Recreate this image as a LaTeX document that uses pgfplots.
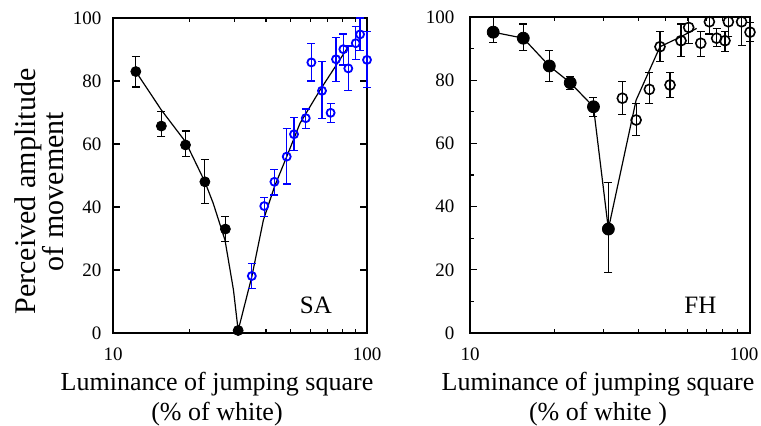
\documentclass[border=0pt]{standalone}
\usepackage{fontspec}
\setmainfont{Liberation Serif}
\usepackage{pgfplots}
\pgfplotsset{compat=1.18}

\begin{document}
\begin{tikzpicture}
\useasboundingbox (0,0) rectangle (380.5pt,212.5pt);

% ---- SA ----
\begin{axis}[at={(56.5pt,46pt)}, anchor=south west,
    width=127pt, height=157.5pt, scale only axis, clip=false,
    xmode=log, xmin=10, xmax=100, ymin=0, ymax=100,
    xtick={10,100}, xticklabels={10,100},
    minor xtick={20,30,40,50,60,70,80,90},
    ytick={0,20,40,60,80,100}, yticklabels={0,20,40,60,80,100},
    axis line style={line width=1pt},
    tick style={line width=0.6pt, black},
    major tick length=3.5pt, minor tick length=2pt,
    tick label style={font=\fontsize{9.5}{11}\selectfont},
    xticklabel style={yshift=-4pt},
    yticklabel style={xshift=-2.3pt},
    xlabel={Luminance of jumping square\\(\% of white)},
    xlabel style={font=\fontsize{13}{15}\selectfont, align=center,
      at={(axis description cs:0.5,0)}, anchor=north, yshift=-16pt, xshift=-11.5pt},
    ylabel={Perceived amplitude\\of movement},
    ylabel style={font=\fontsize{15}{14}\selectfont, align=center,
      at={(axis description cs:0,0.5)}, anchor=south, yshift=21pt, xshift=-8pt}]

  \addplot[black, line width=0.6pt] coordinates {
    (12.3,83.0) (15.5,70.8) (19.3,60.7) (23.0,48.0) (24.8,41.2)
    (27.6,29.5) (29.8,13.7) (31.1,0.8)
    (35.2,17.9) (39.1,35.9) (43.2,46.4) (48.3,56.0) (54.5,66.6)
    (65.3,77.1) (84.4,90.9)};

  \addplot[black, only marks, mark=*, mark size=2.5pt,
    error bars/.cd, y dir=both, y explicit,
    error bar style={line width=0.6pt},
    error mark options={rotate=90, mark size=2pt, line width=0.6pt}] coordinates {
    (12.3,83.0) += (0,4.8) -= (0,4.9)
    (15.5,65.7) += (0,4.6) -= (0,3.4)
    (19.3,59.7) += (0,4.4) -= (0,3.7)
    (23.0,48.0) += (0,7.1) -= (0,6.8)
    (27.7,33.0) += (0,3.9) -= (0,4.0)
    (31.1,0.8)  += (0,0)   -= (0,0)};

  \addplot[blue, only marks, mark=o, mark size=2pt, line width=0.9pt,
    error bars/.cd, y dir=both, y explicit,
    error bar style={line width=0.6pt},
    error mark options={rotate=90, mark size=2pt, line width=0.6pt}] coordinates {
    (35.2,18.1) += (0,4.0) -= (0,3.9)
    (39.4,40.3) += (0,2.8) -= (0,3.4)
    (43.2,48.0) += (0,4.0) -= (0,4.2)
    (48.3,56.0) += (0,9.0) -= (0,8.7)
    (51.6,63.1) += (0,5.2) -= (0,5.2)
    (57.4,68.2) += (0,2.9) -= (0,3.2)
    (60.4,85.9) += (0,6.1) -= (0,5.9)
    (66.5,76.9) += (0,9.2) -= (0,8.7)
    (71.9,69.9) += (0,3.0) -= (0,3.1)
    (75.5,86.9) += (0,7.0) -= (0,7.1)
    (80.7,90.1) += (0,4.8) -= (0,5.0)
    (84.4,84.0) += (0,7.1) -= (0,6.9)
    (90.3,92.0) += (0,5.2) -= (0,5.1)
    (93.9,94.8) += (0,5.2) -= (0,5.0)
    (100,86.7)  += (0,9.0) -= (0,8.7)};

  \node[font=\fontsize{12.5}{14}\selectfont] at (rel axis cs:0.799,0.089) {SA};
\end{axis}

% ---- FH ----
\begin{axis}[at={(235pt,46pt)}, anchor=south west,
    width=140pt, height=158pt, scale only axis, clip=false,
    xmode=log, xmin=10, xmax=100, ymin=0, ymax=100,
    xtick={10,100}, xticklabels={10,{\kern-6pt 100}},
    minor xtick={20,30,40,50,60,70,80,90},
    ytick={0,20,40,60,80,100}, yticklabels={0,20,40,60,80,100},
    minor ytick={10,30,50,70,90},
    ytick pos=left,
    axis line style={line width=1pt},
    tick style={line width=0.6pt, black},
    major tick length=3.5pt, minor tick length=2pt,
    tick label style={font=\fontsize{9.5}{11}\selectfont},
    xticklabel style={yshift=-4pt},
    yticklabel style={xshift=-4.3pt},
    xlabel={Luminance of jumping square\\(\% of white )},
    xlabel style={font=\fontsize{13}{15}\selectfont, align=center,
      at={(axis description cs:0.5,0)}, anchor=north, yshift=-16pt, xshift=-6pt}]

  \addplot[black, line width=0.6pt] coordinates {
    (12.1,95.2) (15.5,93.3) (19.2,84.5) (22.8,79.2) (27.6,71.6)
    (31.2,32.9) (39.2,73.7) (47.7,90.6) (56.2,93.6) (64.5,96.4)};

  \addplot[black, only marks, mark=*, mark size=3pt,
    error bars/.cd, y dir=both, y explicit,
    error bar style={line width=0.6pt},
    error mark options={rotate=90, mark size=2pt, line width=0.6pt}] coordinates {
    (12.1,95.2) += (0,4.8)  -= (0,3.3)
    (15.5,93.3) += (0,4.5)  -= (0,4.0)
    (19.2,84.5) += (0,4.8)  -= (0,4.8)
    (22.8,79.2) += (0,2.1)  -= (0,2.1)
    (27.6,71.6) += (0,3.0)  -= (0,3.2)
    (31.2,32.9) += (0,14.7) -= (0,13.8)};

  \addplot[black, only marks, mark=o, mark size=2.5pt, line width=0.8pt,
    error bars/.cd, y dir=both, y explicit,
    error bar style={line width=0.6pt},
    error mark options={rotate=90, mark size=2pt, line width=0.6pt}] coordinates {
    (35.0,74.3) += (0,5.4) -= (0,5.1)
    (39.2,67.4) += (0,5.3) -= (0,5.0)
    (43.7,77.1) += (0,5.3) -= (0,4.4)
    (47.7,90.6) += (0,4.7) -= (0,4.7)
    (51.8,78.5) += (0,3.9) -= (0,3.9)
    (56.7,92.5) += (0,5.3) -= (0,5.1)
    (60.4,96.7) += (0,3.3) -= (0,5.0)
    (66.7,91.7) += (0,3.6) -= (0,4.3)
    (71.6,98.5) += (0,1.5) -= (0,3.9)
    (76.0,93.3) += (0,3.1) -= (0,2.7)
    (81.4,92.5) += (0,2.8) -= (0,3.5)
    (83.7,98.5) += (0,1.5) -= (0,4.7)
    (93.3,98.5) += (0,1.5) -= (0,7.4)
    (100,95.2)  += (0,3.0) -= (0,3.0)};

  \node[font=\fontsize{12.5}{14}\selectfont] at (rel axis cs:0.823,0.087) {FH};
\end{axis}
\end{tikzpicture}
\end{document}
